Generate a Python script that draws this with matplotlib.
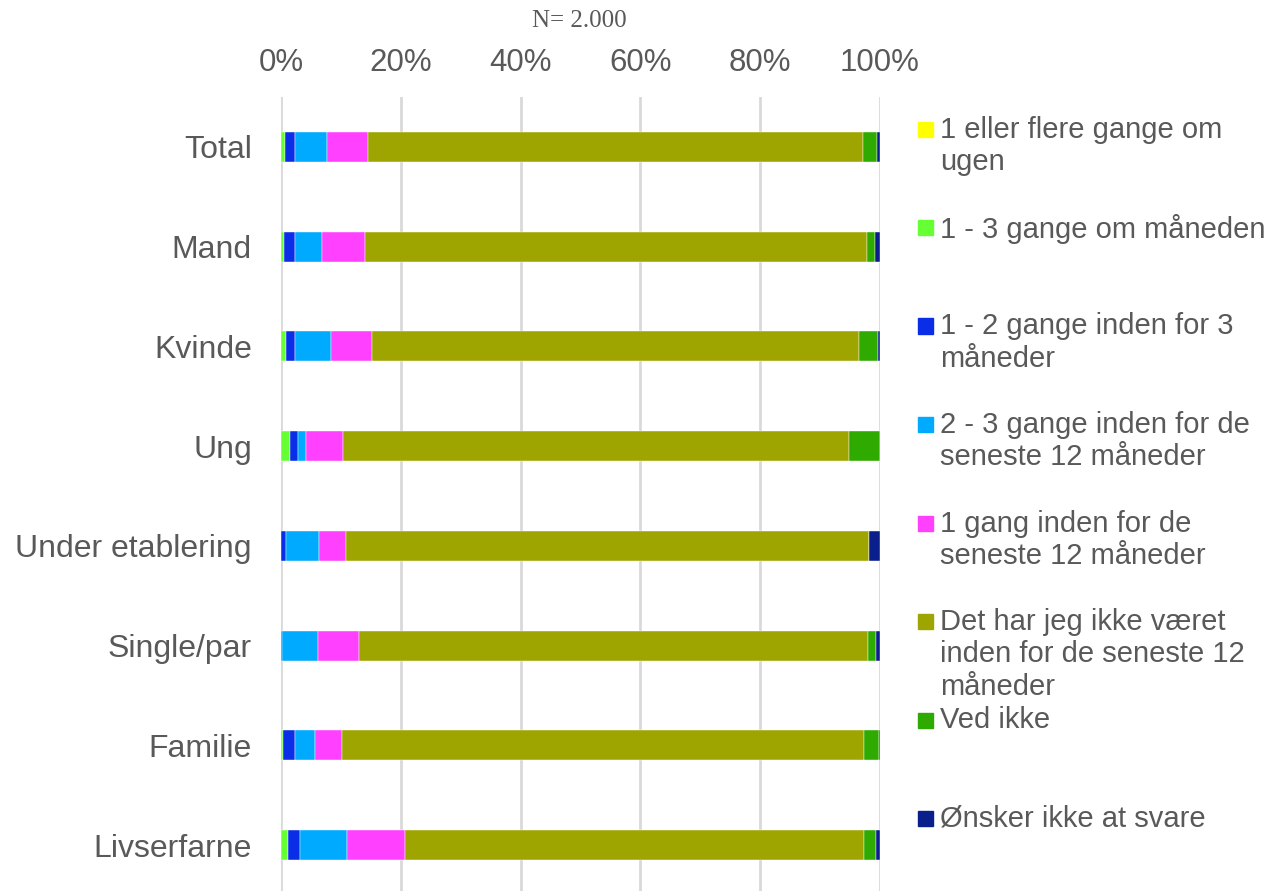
import matplotlib

matplotlib.use("Agg")
import matplotlib.pyplot as plt
import numpy as np
from matplotlib.patches import Rectangle

plt.rcParams["font.family"] = ["Liberation Sans", "DejaVu Sans"]

categories = ["Total", "Mand", "Kvinde", "Ung", "Under etablering",
              "Single/par", "Familie", "Livserfarne"]

series_names = [
    "1 eller flere gange om\nugen",
    "1 - 3 gange om måneden",
    "1 - 2 gange inden for 3\nmåneder",
    "2 - 3 gange inden for de\nseneste 12 måneder",
    "1 gang inden for de\nseneste 12 måneder",
    "Det har jeg ikke været\ninden for de seneste 12\nmåneder",
    "Ved ikke",
    "Ønsker ikke at svare",
]
series_colors = ["#FFFF00", "#66FF33", "#0A2EE8", "#00AAFF",
                 "#FF40FF", "#9FA500", "#2EAA00", "#0A1E8C"]

# percentages per category, one list per series
ugen = [0.0, 0.0, 0.0, 0.0, 0.0, 0.0, 0.0, 0.0]
maaned = [0.7, 0.55, 0.8, 1.5, 0.0, 0.0, 0.3, 1.15]
tre_mdr = [1.7, 1.8, 1.55, 1.4, 0.8, 0.15, 2.1, 2.05]
to_tre_12 = [5.2, 4.5, 6.0, 1.2, 5.55, 5.95, 3.2, 7.85]
en_12 = [7.0, 7.2, 6.85, 6.3, 4.55, 6.95, 4.55, 9.6]
ikke_12 = [82.6, 83.8, 81.25, 84.4, 87.2, 85.0, 87.2, 76.6]
ved_ikke = [2.3, 1.3, 3.2, 5.2, 0.0, 1.3, 2.5, 2.1]
oensker_ikke = [0.5, 0.8, 0.3, 0.0, 1.85, 0.6, 0.15, 0.6]

series = [ugen, maaned, tre_mdr, to_tre_12, en_12, ikke_12, ved_ikke, oensker_ikke]

text_color = "#595959"
W, H = 1273, 891
fig = plt.figure(figsize=(W / 100, H / 100), dpi=100)
ax = fig.add_axes([281 / W, 0, 599 / W, (H - 97) / H])

y = np.arange(len(categories))
left = np.zeros(len(categories))
for vals, color in zip(series, series_colors):
    vals = np.array(vals)
    ax.barh(y, vals, left=left, height=0.3, color=color,
            edgecolor="white", linewidth=0.3, zorder=3)
    left += vals

ax.set_xlim(0, 100)
ax.set_ylim(7.46, -0.5)
ax.set_xticks(np.arange(0, 101, 20))
ax.set_xticklabels([f"{v}%" for v in range(0, 101, 20)])
ax.xaxis.tick_top()
ax.set_yticks(y)
ax.set_yticklabels(categories)
ax.tick_params(length=0, colors=text_color)
ax.tick_params(axis="x", pad=14, labelsize=22.5)
ax.tick_params(axis="y", pad=21, labelsize=23)
ax.grid(axis="x", color="#D9D9D9", linewidth=2, zorder=0)
for s in ax.spines.values():
    s.set_visible(False)

fig.text(579.5 / W, 1 - 21 / H, "N= 2.000", family="Liberation Serif",
         fontsize=18, color=text_color, ha="center", va="center")

# legend, drawn by hand to match the spacing of the original
first_line_y = [129.5, 227.5, 326, 424.5, 523, 621.5, 720, 818]
for name, color, ly in zip(series_names, series_colors, first_line_y):
    fig.patches.append(Rectangle((918 / W, 1 - (ly + 7.5) / H), 15 / W, 15 / H,
                                 transform=fig.transFigure, color=color))
    fig.text(940 / W, 1 - (ly - 13.5) / H, name, fontsize=21, color=text_color,
             ha="left", va="top", linespacing=1.2)

fig.savefig("out.png", dpi=100)
